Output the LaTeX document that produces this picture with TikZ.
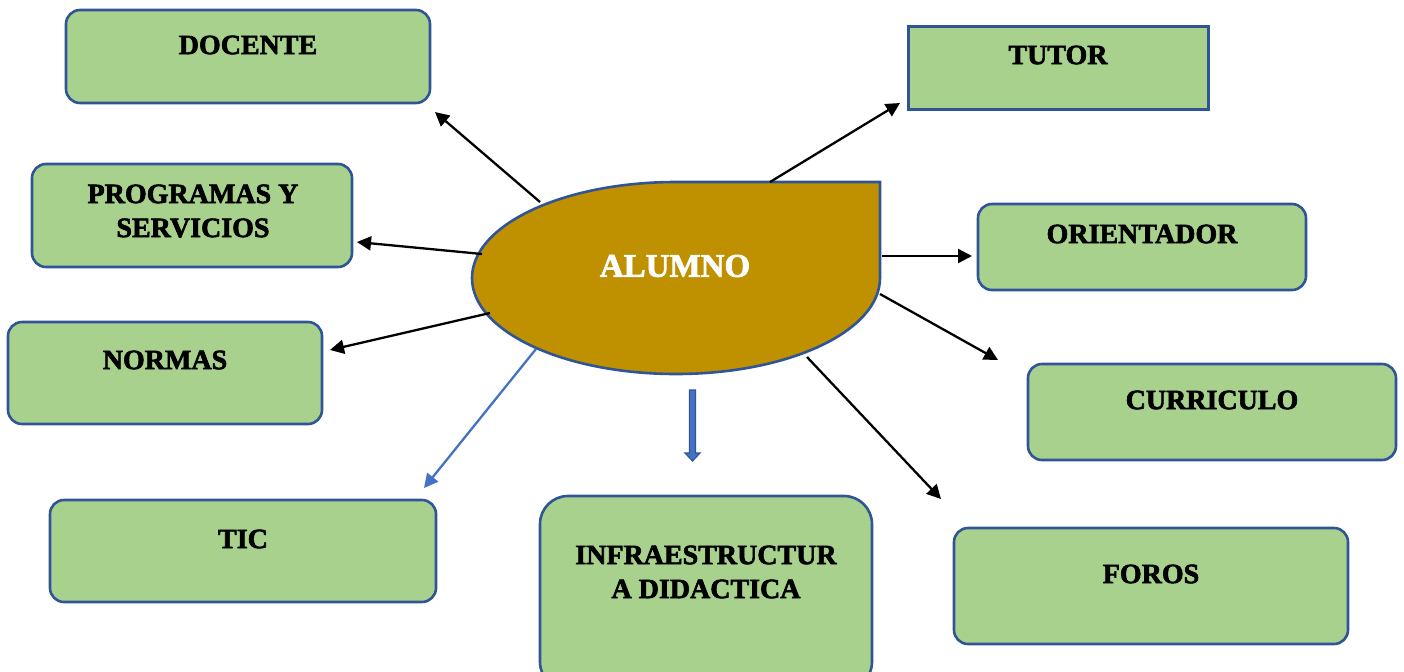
\documentclass[tikz,border=0pt]{standalone}
\usepackage{fontspec}
\setmainfont{Liberation Serif}[BoldFeatures={FakeBold=2.2}]
\usetikzlibrary{arrows.meta}
\definecolor{boxfill}{HTML}{A9D18E}
\definecolor{boxline}{HTML}{2F5597}
\definecolor{centfill}{HTML}{BF9000}
\definecolor{blueline}{HTML}{4472C4}
\tikzset{
  box/.style={draw=boxline, fill=boxfill, line width=1.3pt, rounded corners=7pt},
  sqbox/.style={draw=boxline, fill=boxfill, line width=1.5pt},
  lbl/.style={font=\bfseries\fontsize{14}{17}\selectfont, align=center, inner sep=0pt},
  conn/.style={line width=1.15pt, -{Triangle[length=7pt,width=7pt]}},
}
\begin{document}
\begin{tikzpicture}[x=0.5pt,y=-0.5pt]
\useasboundingbox (0,0) rectangle (1404,671);
% boxes
\draw[box] (66,10) rectangle (430,103);
\node[lbl] (docente) at (248,45) {DOCENTE};
\draw[sqbox] (908,26) rectangle (1208,109);
\node[lbl] (tutor) at (1058,55) {TUTOR};
\draw[box] (32,164) rectangle (352,267);
\node[lbl] (prog) at (193,211) {PROGRAMAS Y\\SERVICIOS};
\draw[box] (978,204) rectangle (1306,290);
\node[lbl] (orient) at (1142,234) {ORIENTADOR};
\draw[box] (8,322) rectangle (322,424);
\node[lbl] (normas) at (165,360) {NORMAS};
\draw[box] (1028,364) rectangle (1396,460);
\node[lbl] (curr) at (1212,400) {CURRICULO};
\draw[box] (50,500) rectangle (436,602);
\node[lbl] (tic) at (243,539) {TIC};
\draw[box, rounded corners=14pt] (540,496) rectangle (872,690);
\node[lbl] (infra) at (706,572) {INFRAESTRUCTUR\\A DIDACTICA};
\draw[box] (954,528) rectangle (1348,644);
\node[lbl] (foros) at (1151,574) {FOROS};
% center teardrop
\draw[draw=boxline, fill=centfill, line width=1.3pt]
  (472,278) .. controls (472,225) and (563,182) .. (676,182)
  -- (880,182) -- (880,278)
  .. controls (880,331) and (789,374) .. (676,374)
  .. controls (563,374) and (472,331) .. (472,278) -- cycle;
\node[lbl, text=white, font=\bfseries\fontsize{16.5}{19}\selectfont] (alumno) at (675,266) {ALUMNO};
% connector ends
\coordinate (s1) at (540,202); \coordinate (e1) at (435,112);
\coordinate (s2) at (770,182); \coordinate (e2) at (900,103);
\coordinate (s3) at (482,254); \coordinate (e3) at (357,242);
\coordinate (s4) at (882,256); \coordinate (e4) at (972,256);
\coordinate (s5) at (490,313); \coordinate (e5) at (330,350);
\coordinate (s6) at (880,294); \coordinate (e6) at (998,360);
\coordinate (s7) at (536,349); \coordinate (e7) at (424,488);
\coordinate (s8) at (807,357); \coordinate (e8) at (941,499);
\draw[conn] (s1) -- (e1);
\draw[conn] (s2) -- (e2);
\draw[conn] (s3) -- (e3);
\draw[conn] (s4) -- (e4);
\draw[conn] (s5) -- (e5);
\draw[conn] (s6) -- (e6);
\draw[conn, draw=blueline, fill=blueline] (s7) -- (e7);
\draw[conn] (s8) -- (e8);
% block arrow down
\draw[fill=blueline, draw=boxline, line width=0.6pt]
  (689.5,390) -- (695.5,390) -- (695.5,453) -- (700,453) -- (692.5,461) -- (685,453) -- (689.5,453) -- cycle;
\end{tikzpicture}
\end{document}
